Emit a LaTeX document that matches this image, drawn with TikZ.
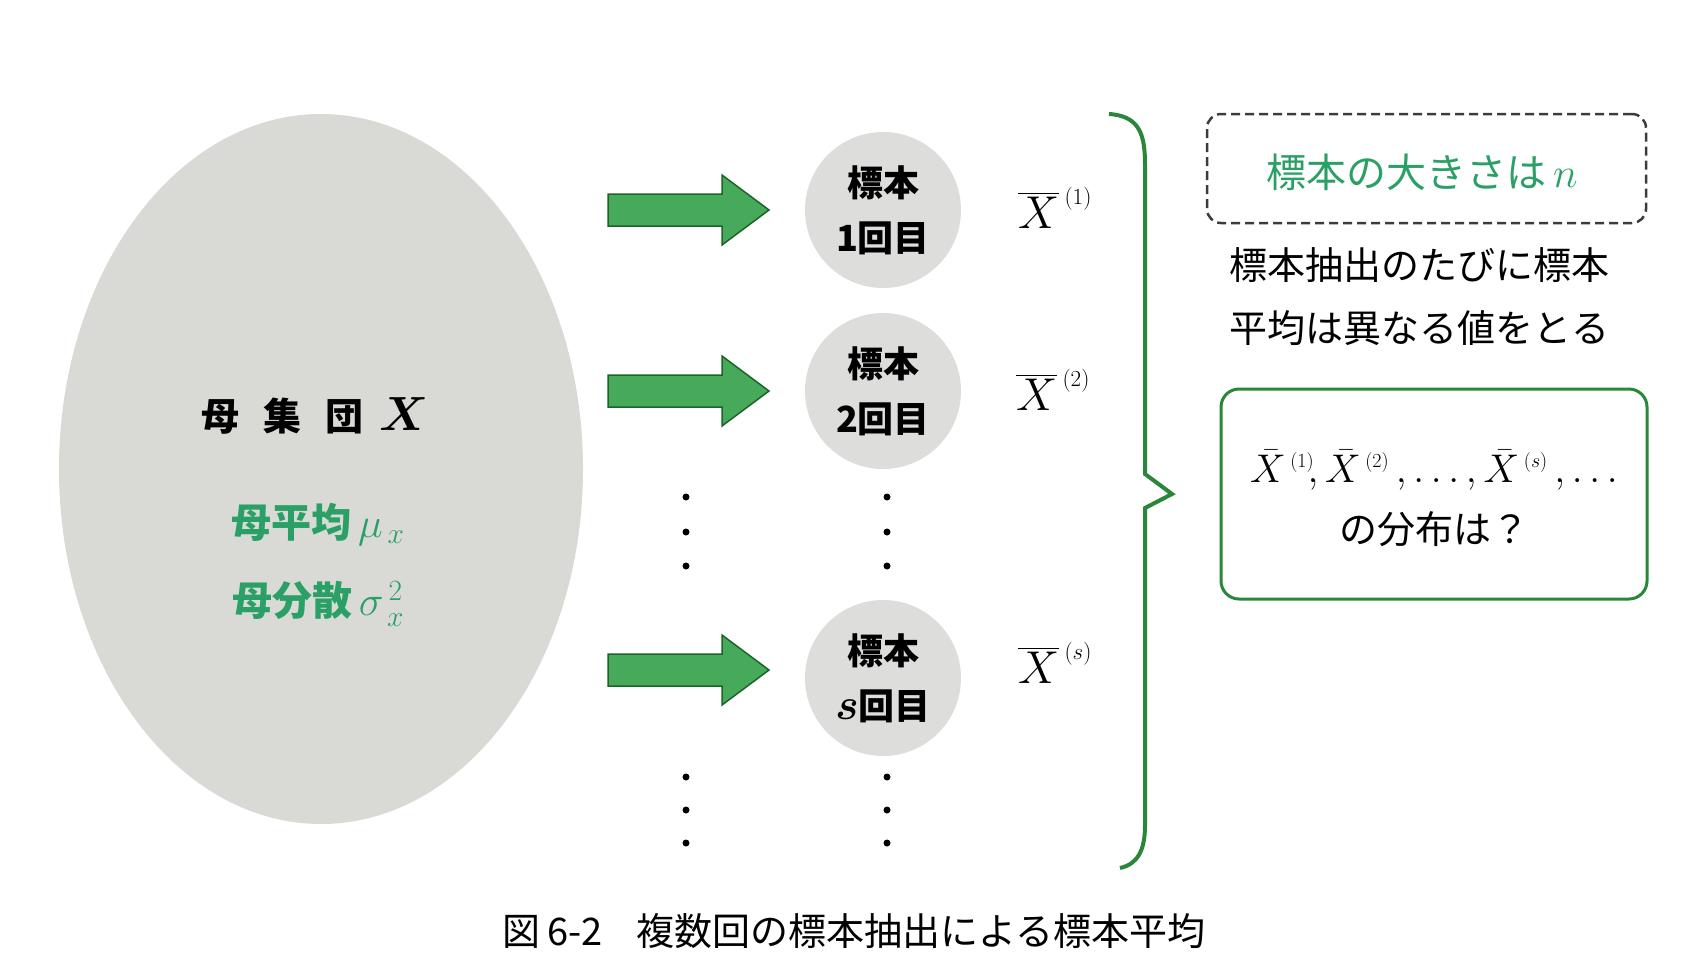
\RequirePackage{fix-cm}
\documentclass[tikz,border=0pt]{standalone}
\usepackage{amsmath}
\usepackage{fontspec}
\newfontfamily\jp{Noto Sans CJK JP}
\usetikzlibrary{shapes.geometric}
\definecolor{popgray}{RGB}{217,218,214}
\definecolor{circgray}{RGB}{221,221,220}
\definecolor{arrowgreen}{RGB}{70,170,90}
\definecolor{arrowedge}{RGB}{28,100,42}
\definecolor{bracegreen}{RGB}{42,135,58}
\definecolor{textgreen}{RGB}{42,160,102}
\definecolor{dashgray}{RGB}{60,60,60}
\tikzset{
  jpbold/.style={font=\jp\bfseries\fontsize{36}{55}\selectfont},
  sampcircle/.style={circle, fill=circgray, minimum size=156pt, inner sep=0pt, align=center, jpbold},
  blockarrow/.style={fill=arrowgreen, draw=arrowedge, line width=1.5pt, line join=miter},
  meanlabel/.style={font=\fontsize{46}{50}\selectfont, anchor=base west, inner sep=0pt},
  vdot/.style={circle, fill=black, inner sep=0pt, minimum size=7pt},
}
\begin{document}
\begin{tikzpicture}[x=1pt,y=-1pt]
\useasboundingbox (0,0) rectangle (1702,970);
% population ellipse
\node[ellipse, fill=popgray, minimum width=524pt, minimum height=710pt, inner sep=0pt] (pop) at (321,469) {};
\node[font=\jp\bfseries\fontsize{38}{44}\selectfont, anchor=center] (poptitle) at (315,416)
  {母\hspace{24pt}集\hspace{24pt}団\hspace{16pt}{\fontsize{48}{50}\selectfont$\boldsymbol{X}$}};
\node[font=\jp\bfseries\fontsize{40}{44}\selectfont, text=textgreen] (popmean) at (318,524)
  {母平均\,{\fontsize{42}{44}\selectfont$\mu_{\,x}$}};
\node[font=\jp\bfseries\fontsize{40}{44}\selectfont, text=textgreen] (popvar) at (318,604)
  {母分散\,{\fontsize{42}{44}\selectfont$\sigma_{\,x}^{\,2}$}};
% arrows
\foreach \yy/\nm in {210/a1, 391/a2, 670/a3}{
  \draw[blockarrow] (608,\yy-16) -- (722,\yy-16) -- (722,\yy-35) -- (769,\yy) -- (722,\yy+35) -- (722,\yy+16) -- (608,\yy+16) -- cycle;
}
% sample circles
\node[sampcircle] (s1) at (883,210) {標本\\1回目};
\node[sampcircle] (s2) at (883,391) {標本\\2回目};
\node[sampcircle] (s3) at (883,678) {標本\\{\fontsize{44}{50}\selectfont$\boldsymbol{s}$}回目};
% sample means
\node[meanlabel] (m1) at (1018,228) {$\overline{X}^{\,\scriptscriptstyle(1)}$};
\node[meanlabel] (m2) at (1016,410) {$\overline{X}^{\,\scriptscriptstyle(2)}$};
\node[meanlabel] (m3) at (1018,683) {$\overline{X}^{\,\scriptscriptstyle(s)}$};
% dots
\foreach \yy in {497,532,566,777,810,843}{
  \node[vdot] at (686,\yy) {};
  \node[vdot] at (887,\yy) {};
}
% brace
\draw[bracegreen, line width=4pt, line join=miter]
  (1109,114) .. controls (1140,116) and (1145,135) .. (1145,165)
  -- (1145,474) -- (1172,494) -- (1145,508)
  -- (1145,825) .. controls (1145,850) and (1138,864) .. (1120,868);
% size box
\node[draw=dashgray, dash pattern=on 9pt off 5pt, rounded corners=14pt, line width=2.5pt,
      minimum width=439pt, minimum height=109pt, inner sep=0pt] (nbox) at (1426.5,168.5) {};
\node[font=\jp\fontsize{40}{44}\selectfont, text=textgreen] (ntext) at (1422,172)
  {標本の大きさは\,{\fontsize{42}{44}\selectfont$n$}};
% description
\node[font=\jp\fontsize{38}{63}\selectfont, align=left, anchor=west] (desc) at (1226,297)
  {標本抽出のたびに標本\\平均は異なる値をとる};
% distribution box
\node[draw=bracegreen, line width=3pt, rounded corners=18pt, minimum width=426pt,
      minimum height=210pt, inner sep=0pt] (dist) at (1434,494) {};
\node[font=\fontsize{40}{44}\selectfont] (distmath) at (1434,470)
  {$\bar{X}^{\,\scriptscriptstyle(1)}\!,\bar{X}^{\,\scriptscriptstyle(2)}\,,\ldots,\bar{X}^{\,\scriptscriptstyle(s)}\,,\ldots$};
\node[font=\jp\fontsize{38}{44}\selectfont] (disttext) at (1434,529) {の分布は？};
% caption
\node[font=\jp\fontsize{38}{40}\selectfont] (caption) at (854,931)
  {図\,6-2\hspace{34pt}複数回の標本抽出による標本平均};
\end{tikzpicture}
\end{document}
